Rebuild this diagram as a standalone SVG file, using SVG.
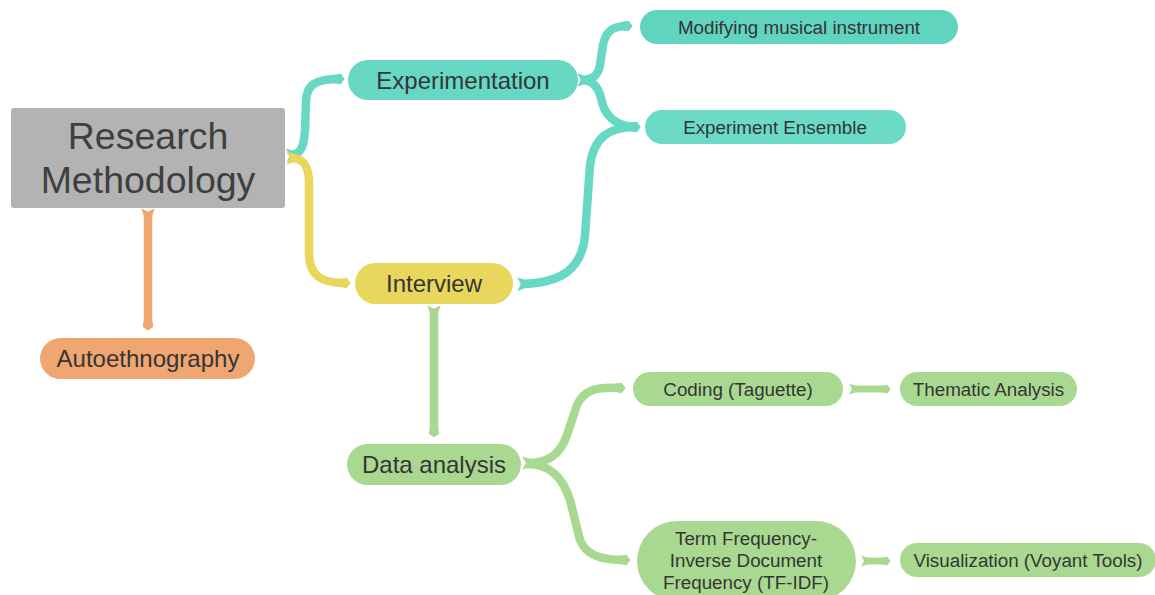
<svg xmlns="http://www.w3.org/2000/svg" width="1155" height="595" viewBox="0 0 1155 595">
  <defs>
    <style>
      .lbl { font-family: "Liberation Sans", Arial, sans-serif; fill: #353535; text-anchor: middle; }
      .big { font-size: 37.5px; fill: #3f3f3f; }
      .mid { font-size: 24px; }
      .sm { font-size: 18.8px; }
      .link { fill: none; stroke-width: 8.5; stroke-linecap: butt; stroke-linejoin: round; }
      .teal { stroke: #67d8c4; }
      .yellow { stroke: #e9d65c; }
      .orange { stroke: #f0a76f; }
      .green { stroke: #a9d990; }
    </style>
    <!-- fishtail tails and pointed tips for the ribbon connectors -->
    <marker id="s-teal" viewBox="-1 -1 2 2" refX="0" refY="0" markerWidth="2" markerHeight="2" markerUnits="strokeWidth" orient="auto"><path d="M0.3,-0.5 L-0.55,-0.8 L-0.15,0 L-0.55,0.8 L0.3,0.5Z" fill="#67d8c4"/></marker>
    <marker id="e-teal" viewBox="-1 -1 2 2" refX="0" refY="0" markerWidth="2" markerHeight="2" markerUnits="strokeWidth" orient="auto"><path d="M-0.5,-0.5 L0.2,-0.62 L0.65,0 L0.2,0.62 L-0.5,0.5Z" fill="#67d8c4"/></marker>
    <marker id="s-yellow" viewBox="-1 -1 2 2" refX="0" refY="0" markerWidth="2" markerHeight="2" markerUnits="strokeWidth" orient="auto"><path d="M0.3,-0.5 L-0.55,-0.8 L-0.15,0 L-0.55,0.8 L0.3,0.5Z" fill="#e9d65c"/></marker>
    <marker id="e-yellow" viewBox="-1 -1 2 2" refX="0" refY="0" markerWidth="2" markerHeight="2" markerUnits="strokeWidth" orient="auto"><path d="M-0.5,-0.5 L0.2,-0.62 L0.65,0 L0.2,0.62 L-0.5,0.5Z" fill="#e9d65c"/></marker>
    <marker id="s-orange" viewBox="-1 -1 2 2" refX="0" refY="0" markerWidth="2" markerHeight="2" markerUnits="strokeWidth" orient="auto"><path d="M0.3,-0.5 L-0.55,-0.8 L-0.15,0 L-0.55,0.8 L0.3,0.5Z" fill="#f0a76f"/></marker>
    <marker id="e-orange" viewBox="-1 -1 2 2" refX="0" refY="0" markerWidth="2" markerHeight="2" markerUnits="strokeWidth" orient="auto"><path d="M-0.5,-0.5 L0.2,-0.62 L0.65,0 L0.2,0.62 L-0.5,0.5Z" fill="#f0a76f"/></marker>
    <marker id="s-green" viewBox="-1 -1 2 2" refX="0" refY="0" markerWidth="2" markerHeight="2" markerUnits="strokeWidth" orient="auto"><path d="M0.3,-0.5 L-0.55,-0.8 L-0.15,0 L-0.55,0.8 L0.3,0.5Z" fill="#a9d990"/></marker>
    <marker id="e-green" viewBox="-1 -1 2 2" refX="0" refY="0" markerWidth="2" markerHeight="2" markerUnits="strokeWidth" orient="auto"><path d="M-0.5,-0.5 L0.2,-0.62 L0.65,0 L0.2,0.62 L-0.5,0.5Z" fill="#a9d990"/></marker>
  </defs>

  <rect width="1155" height="595" fill="#ffffff"/>

  <!-- connectors -->
  <g id="connectors">
    <path class="link teal" marker-start="url(#s-teal)" marker-end="url(#e-teal)" d="M291,155 C302,154 304,145 305,130 L306,100 C307,85 315,79 339,79"/>
    <path class="link yellow" marker-start="url(#s-yellow)" marker-end="url(#e-yellow)" d="M291,158 C303,158 308,165 309,180 L309,255 C310,275 320,283 345,283"/>
    <path class="link teal" marker-start="url(#s-teal)" marker-end="url(#e-teal)" d="M582,80 C592,80 598,76 600,65 L603,45 C606,30 614,26 627,26"/>
    <path class="link teal" d="M582,80 C592,80 598,86 601,98 C604,115 615,126 635,127" marker-end="url(#e-teal)"/>
    <path class="link teal" marker-start="url(#s-teal)" marker-end="url(#e-teal)" d="M522,284 C560,283 582,270 585,235 L590,165 C594,138 608,127 635,127"/>
    <path class="link orange" marker-start="url(#s-orange)" marker-end="url(#e-orange)" d="M148,213 L148,325"/>
    <path class="link green" marker-start="url(#s-green)" marker-end="url(#e-green)" d="M434,310 L434,432"/>
    <path class="link green" marker-start="url(#s-green)" marker-end="url(#e-green)" d="M527,463 C548,463 560,455 567,435 L577,405 C584,390 595,387 620,388"/>
    <path class="link green" marker-end="url(#e-green)" d="M527,464 C548,464 562,475 570,500 L580,540 C586,555 600,560 625,560"/>
    <path class="link green" style="stroke-width:7" marker-start="url(#s-green)" marker-end="url(#e-green)" d="M853,389 L886,389"/>
    <path class="link green" style="stroke-width:7" marker-start="url(#s-green)" marker-end="url(#e-green)" d="M865,561 L886,561"/>
  </g>

  <g id="research-methodology">
    <rect x="11" y="108" width="274" height="100" rx="3" fill="#b3b3b3"/>
    <text class="lbl big" x="148" y="149">Research</text>
    <text class="lbl big" x="148" y="193">Methodology</text>
  </g>

  <g id="experimentation">
    <rect x="348" y="60" width="230" height="40" rx="20" fill="#67d8c4"/>
    <text class="lbl mid" x="463" y="88.5">Experimentation</text>
  </g>

  <g id="modifying-instrument">
    <rect x="640" y="10" width="318" height="34" rx="17" fill="#60d4bf"/>
    <text class="lbl sm" x="799" y="33.5">Modifying musical instrument</text>
  </g>

  <g id="experiment-ensemble">
    <rect x="645" y="110" width="261" height="34" rx="17" fill="#6bdac7"/>
    <text class="lbl sm" x="775" y="133.5">Experiment Ensemble</text>
  </g>

  <g id="interview">
    <rect x="355" y="263" width="158" height="41" rx="20.5" fill="#e9d65c"/>
    <text class="lbl mid" x="434" y="292">Interview</text>
  </g>

  <g id="autoethnography">
    <rect x="40" y="338" width="215" height="41" rx="20.5" fill="#f0a670"/>
    <text class="lbl mid" x="148" y="366.5">Autoethnography</text>
  </g>

  <g id="data-analysis">
    <rect x="347" y="444" width="174" height="41" rx="20.5" fill="#a9d990"/>
    <text class="lbl mid" x="434" y="473">Data analysis</text>
  </g>

  <g id="coding">
    <rect x="633" y="372" width="210" height="34" rx="17" fill="#a9d990"/>
    <text class="lbl sm" x="738" y="395.5">Coding (Taguette)</text>
  </g>

  <g id="thematic-analysis">
    <rect x="900" y="372" width="177" height="34" rx="17" fill="#a9d990"/>
    <text class="lbl sm" x="988.5" y="395.5">Thematic Analysis</text>
  </g>

  <g id="tf-idf">
    <rect x="637" y="521" width="219" height="80" rx="40" fill="#a9d990"/>
    <text class="lbl sm" x="746" y="545">Term Frequency-</text>
    <text class="lbl sm" x="746" y="567">Inverse Document</text>
    <text class="lbl sm" x="746" y="589">Frequency (TF-IDF)</text>
  </g>

  <g id="visualization">
    <rect x="900" y="543" width="256" height="34" rx="17" fill="#a9d990"/>
    <text class="lbl sm" x="1028" y="566.5">Visualization (Voyant Tools)</text>
  </g>
</svg>
